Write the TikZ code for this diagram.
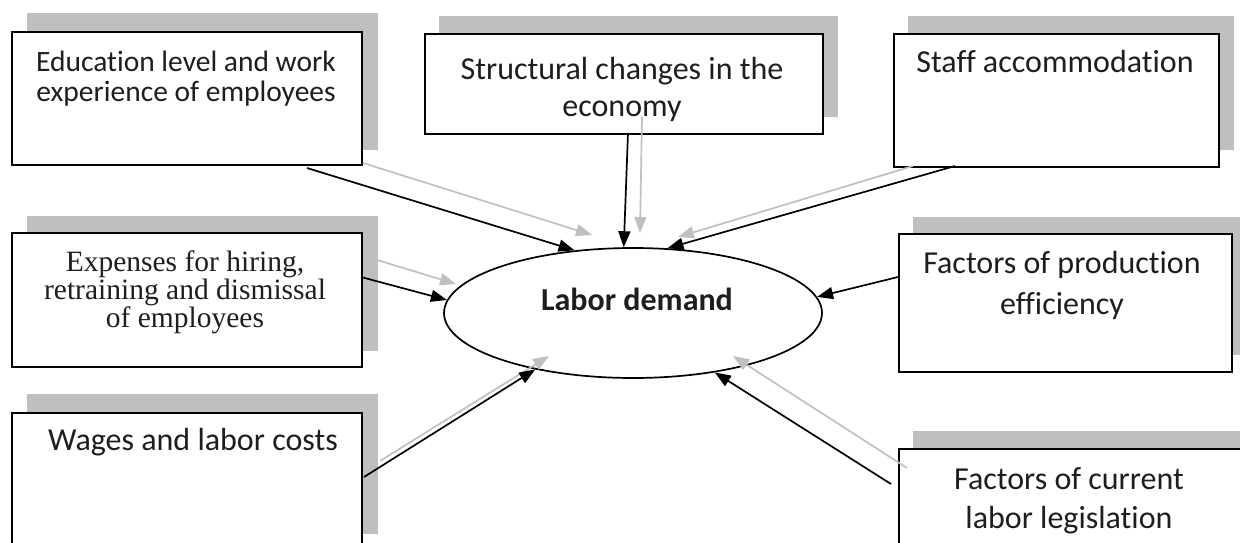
\documentclass[tikz,border=0pt]{standalone}
\usepackage{fontspec}
\setmainfont{Carlito}[Ligatures=NoCommon]
\newfontfamily\timesfont{Liberation Serif}
\usetikzlibrary{arrows.meta,shapes.geometric}
\definecolor{shade}{RGB}{191,191,191}
\definecolor{ghost}{RGB}{192,192,192}
\definecolor{ink}{RGB}{30,30,30}
\begin{document}
\begin{tikzpicture}[x=1pt,y=-1pt,
  shadowbox/.style={fill=shade},
  factorbox/.style={draw=black,line width=1.7pt,fill=white,anchor=north west,inner sep=0pt},
  boxtext/.style={anchor=base,align=center,inner sep=0pt,text=ink},
  link/.style={line width=1.7pt,-{Triangle[length=16pt,width=12pt]}},
  ghostlink/.style={link,draw=ghost,fill=ghost}]
\useasboundingbox (0,0) rectangle (1240,543);

% shadows behind the factor boxes
\fill[shadowbox] (27,13) rectangle (378,150);
\fill[shadowbox] (439,16) rectangle (838,117);
\fill[shadowbox] (908,16) rectangle (1234,150);
\fill[shadowbox] (27,216) rectangle (378,351);
\fill[shadowbox] (913,217) rectangle (1250,355);
\fill[shadowbox] (27,394) rectangle (378,534);
\fill[shadowbox] (913,431) rectangle (1260,570);

% factor boxes
\node[factorbox,minimum width=350pt,minimum height=133pt] (edu) at (11,31) {};
\node[factorbox,minimum width=398pt,minimum height=100pt] (struct) at (424,33) {};
\node[factorbox,minimum width=325pt,minimum height=133pt] (staff) at (893,33) {};
\node[factorbox,minimum width=350pt,minimum height=134pt] (exp) at (11,232) {};
\node[factorbox,minimum width=333pt,minimum height=138pt] (prod) at (898,233) {};
\node[factorbox,minimum width=350pt,minimum height=148pt] (wages) at (11,412) {};
\node[factorbox,minimum width=347pt,minimum height=132pt] (curr) at (898,448) {};

% central ellipse
\node[ellipse,draw=black,line width=1.7pt,fill=white,minimum width=378pt,minimum height=130pt,inner sep=0pt] (dem) at (633,313) {};

% texts (the base anchor sits on the last line)
\node[boxtext,font=\fontsize{29.5}{29}\selectfont] (eduText) at (186,101) {Education level and work\\experience of employees};
\node[boxtext,font=\fontsize{32}{37}\selectfont] (structText) at (622,116.5) {Structural changes in the\\economy};
\node[boxtext,font=\fontsize{32}{38}\selectfont] (staffText) at (1055,72.5) {Staff accommodation};
\node[boxtext,font=\timesfont\fontsize{29.5}{28}\selectfont] (expText) at (185,327) {Expenses for hiring,\\retraining and dismissal\\of employees};
\node[boxtext,font=\fontsize{32}{41}\selectfont] (prodText) at (1062,314.5) {Factors of production\\efficiency};
\node[boxtext,font=\fontsize{32}{38}\selectfont] (wagesText) at (193,450.5) {Wages and labor costs};
\node[boxtext,font=\fontsize{32}{39}\selectfont] (currText) at (1069,528) {Factors of current\\labor legislation};
\node[inner sep=0pt,text=ink,font=\bfseries\fontsize{32}{38}\selectfont] (demText) at (637,299) {Labor demand};

% grey shadow arrows
\coordinate (eduG) at (363,163);   \coordinate (eduGT) at (592,235);
\coordinate (structG) at (642,117); \coordinate (structGT) at (640,233);
\coordinate (staffG) at (913,166); \coordinate (staffGT) at (678,237);
\coordinate (expG) at (377,260);   \coordinate (expGT) at (456,284);
\coordinate (wagesG) at (380,461); \coordinate (wagesGT) at (549,356);
\coordinate (currG) at (907,468);  \coordinate (currGT) at (733,356);
\draw[ghostlink] (eduG) -- (eduGT);
\draw[ghostlink] (structG) -- (structGT);
\draw[ghostlink] (staffG) -- (staffGT);
\draw[ghostlink] (expG) -- (expGT);
\draw[ghostlink] (wagesG) -- (wagesGT);
\draw[ghostlink] (currG) -- (currGT);

% black arrows into the ellipse
\coordinate (eduOut) at (307,168);
\coordinate (structOut) at (628,133);
\coordinate (staffOut) at (955,166);
\coordinate (expOut) at (361,277);
\coordinate (prodOut) at (898,277);
\coordinate (wagesOut) at (364,477);
\coordinate (currOut) at (891,484);
\draw[link] (eduOut) -- (dem.133.6);
\draw[link] (structOut) -- (dem.98.1);
\draw[link] (staffOut) -- (dem.62.4);
\draw[link] (expOut) -- (dem.176.7);
\draw[link] (prodOut) -- (dem.5.6);
\draw[link] (wagesOut) -- (dem.210.5);
\draw[link] (currOut) -- (dem.324.9);
\end{tikzpicture}
\end{document}
